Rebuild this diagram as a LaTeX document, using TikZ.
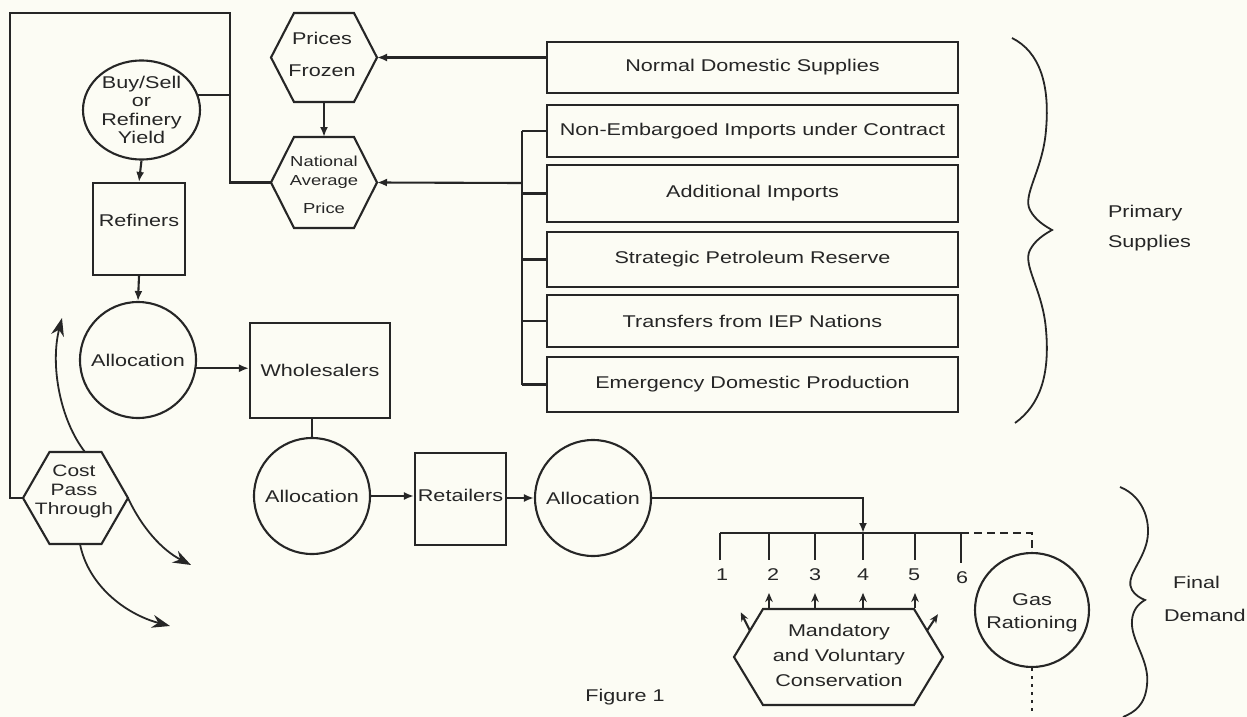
\documentclass[tikz,border=0pt]{standalone}
\usepackage{fontspec}
\newfontfamily\lab{Liberation Sans}[FakeStretch=1.27]
\usetikzlibrary{arrows.meta,shapes.geometric,calc}
\definecolor{bg}{RGB}{252,252,244}
\definecolor{ink}{RGB}{38,38,38}
\newcommand{\hexdraw}[6]{%
  \coordinate (#1-c) at (#2,#3);
  \coordinate (#1-w) at ($(#1-c)+(-#5,0)$);
  \coordinate (#1-e) at ($(#1-c)+(#5,0)$);
  \coordinate (#1-nw) at ($(#1-c)+(-#4,-#6)$);
  \coordinate (#1-ne) at ($(#1-c)+(#4,-#6)$);
  \coordinate (#1-sw) at ($(#1-c)+(-#4,#6)$);
  \coordinate (#1-se) at ($(#1-c)+(#4,#6)$);
  \coordinate (#1-n) at ($(#1-c)+(0,-#6)$);
  \coordinate (#1-s) at ($(#1-c)+(0,#6)$);
  \draw[hexline] (#1-nw) -- (#1-ne) -- (#1-e) -- (#1-se) -- (#1-sw) -- (#1-w) -- cycle;
}
\tikzset{
  f17/.style={font=\lab\fontsize{17}{20}\selectfont},
  boxnode/.style={draw, rectangle, inner sep=0pt, f17},
  circnode/.style={draw, circle, inner sep=0pt, minimum size=116pt, align=center, f17},
  txt/.style={inner sep=0pt, align=center, f17},
  hexline/.style={line join=miter},
  arr/.style={-{Latex[length=10pt,width=8pt]}},
  sarr/.style={-{Stealth[length=9pt,width=7.5pt]}},
  bigarr/.style={-{Stealth[length=18pt,width=13pt]}},
}
\begin{document}
\begin{tikzpicture}[x=1pt,y=-1pt,line width=2.1pt,color=ink]
\fill[bg] (0,0) rectangle (1247,717);
\path[use as bounding box] (0,0) rectangle (1247,717);

% ---------- right-hand supply boxes
\node[boxnode, minimum width=411pt, minimum height=51pt] (nds) at (752.5,67.5) {Normal Domestic Supplies};
\node[boxnode, minimum width=411pt, minimum height=52pt] (nei) at (752.5,131) {Non-Embargoed Imports under Contract};
\node[boxnode, minimum width=411pt, minimum height=57pt] (adi) at (752.5,193.5) {Additional Imports};
\node[boxnode, minimum width=411pt, minimum height=55pt] (spr) at (752.5,259.5) {Strategic Petroleum Reserve};
\node[boxnode, minimum width=411pt, minimum height=52pt] (tin) at (752.5,321) {Transfers from IEP Nations};
\node[boxnode, minimum width=411pt, minimum height=55pt] (edp) at (752.5,384.5) {Emergency Domestic Production};

% ---------- hexagons
\hexdraw{pf}{324}{57.5}{30}{53}{44.5}
\node[txt, font=\lab\fontsize{17}{32}\selectfont] (pft) at (322,54) {Prices\\Frozen};
\hexdraw{np}{324}{182.5}{30}{53}{45.5}
\node[txt, font=\lab\fontsize{14.5}{19}\selectfont] (npt) at (324,185) {National\\Average\\[9pt]Price};
\hexdraw{cp}{75.5}{498}{26}{52.5}{46}
\node[txt, font=\lab\fontsize{16.5}{19}\selectfont] (cpt) at (74,491) {Cost\\Pass\\Through};
\hexdraw{cv}{838.5}{657}{75.5}{104.5}{48}
\node[txt, font=\lab\fontsize{17}{25}\selectfont] (cvt) at (839,655) {Mandatory\\and Voluntary\\Conservation};

% ---------- left chain
\node[draw, ellipse, inner sep=0pt, minimum width=117pt, minimum height=99pt, align=center,
      font=\lab\fontsize{17}{18.3}\selectfont] (bs) at (141.5,110) {Buy/Sell\\or\\Refinery\\Yield};
\node[boxnode, minimum width=92pt, minimum height=92pt] (ref) at (139,229) {};
\node[txt] (reft) at (139,220) {Refiners};
\node[circnode] (a1) at (138,360) {Allocation};
\node[boxnode, minimum width=140pt, minimum height=95pt] (wh) at (320,370.5) {Wholesalers};
\node[circnode] (a2) at (312,496) {Allocation};
\node[boxnode, minimum width=91pt, minimum height=92pt] (ret) at (460.5,499) {};
\node[txt] (rett) at (460.5,495) {Retailers};
\node[circnode] (a3) at (593,498) {Allocation};
\node[circnode, minimum size=114pt] (gas) at (1032,610) {};
\node[txt, font=\lab\fontsize{17}{23}\selectfont] (gast) at (1032,613) {Gas\\Rationing};

% ---------- connectors: supplies
\coordinate (bus) at (522,183);
\draw[arr] (nds.west |- pf-e) -- (pf-e);
\draw (bus |- nei.west) -- (bus |- edp.west);
\foreach \b in {nei,adi,spr,tin,edp}{\draw (bus |- \b.west) -- (\b.west);}
\draw[arr] (bus) -- (np-e);
\draw[arr] (pf-s) -- (np-n);

% ---------- outer loop
\coordinate (lt) at (10,13);
\coordinate (rt) at (230,13);
\draw (cp-w) -| (lt) -- (rt) |- (np-w);
\draw (bs.15) -- (bs.15 -| rt);

% ---------- chain
\draw[arr] (bs.south) -- (ref.north);
\draw[arr] (ref.south) -- (a1.north);
\draw[arr] (a1.-8) -- (a1.-8 -| wh.west);
\draw (a2.north) -- (a2.north |- wh.south);
\draw[arr] (a2.east) -- (a2.east -| ret.west);
\draw[arr] (a3.west -| ret.east) -- (a3.west);

% ---------- final demand bar
\coordinate (t1) at (720,533);
\coordinate (t2) at (769,533);
\coordinate (t3) at (815,533);
\coordinate (t4) at (863,533);
\coordinate (t5) at (915,533);
\coordinate (t6) at (961,533);
\draw[arr] (a3.east) -| (t4);
\draw (t1) -- (t6);
\node[txt] (n1) at (722,575) {1};
\node[txt] (n2) at (773,575) {2};
\node[txt] (n3) at (815,575) {3};
\node[txt] (n4) at (863,575) {4};
\node[txt] (n5) at (914,575) {5};
\node[txt] (n6) at (962,578) {6};
\foreach \i in {1,...,6}{\draw[shorten >=8pt] (t\i) -- (t\i |- n\i.north);}
\foreach \i in {2,...,5}{\draw[sarr, shorten <=1pt, shorten >=11pt] (t\i |- cv-n) -- (t\i |- n\i.south);}
\draw[sarr, shorten >=34pt] ($(cv-w)!0.55!(cv-nw)$) -- (n1);
\draw[sarr, shorten >=35pt] ($(cv-e)!0.55!(cv-ne)$) -- (n6);
\draw[dash pattern=on 8pt off 5pt] (t6) -| (gas.north);
\coordinate (gasend) at (1032,712);
\draw[dash pattern=on 3pt off 5pt] (gas.south) -- (gasend);

% ---------- cost pass through curved arrows
\coordinate (cps1) at (85,452);
\coordinate (ca1) at (62,318);
\coordinate (ca2) at (191,565);
\coordinate (cps3) at (80,544);
\coordinate (ca3) at (170,626);
\draw[bigarr, line width=1.8pt] (cps1) .. controls (60,420) and (50,365) .. (ca1);
\draw[bigarr, line width=1.8pt] (cp-e) .. controls (142,528) and (162,550) .. (ca2);
\draw[bigarr, line width=1.8pt] (cps3) .. controls (88,585) and (125,614) .. (ca3);

% ---------- braces
\draw[line width=1.8pt] (1012,38) .. controls (1040,52) and (1050,85) .. (1046,130)
  .. controls (1043,170) and (1022,195) .. (1030,210)
  .. controls (1035,220) and (1045,226) .. (1052,230)
  .. controls (1045,234) and (1035,240) .. (1030,250)
  .. controls (1022,265) and (1043,290) .. (1046,330)
  .. controls (1050,375) and (1040,405) .. (1015,423);
\draw[line width=1.8pt] (1120,487) .. controls (1145,497) and (1152,525) .. (1146,545)
  .. controls (1140,565) and (1125,578) .. (1132,590)
  .. controls (1135,595) and (1140,598) .. (1145,600)
  .. controls (1138,604) and (1133,610) .. (1132,620)
  .. controls (1130,640) and (1150,660) .. (1147,685)
  .. controls (1145,705) and (1135,712) .. (1123,717);
\node[txt, anchor=west] (prim) at (1107,213) {Primary};
\node[txt, anchor=west] (supp) at (1107,243) {Supplies};
\node[txt, anchor=west] (fin) at (1172,582) {Final};
\node[txt, anchor=west] (dem) at (1163,615) {Demand};
\node[txt] (fig) at (625,697) {Figure 1};
\end{tikzpicture}
\end{document}
